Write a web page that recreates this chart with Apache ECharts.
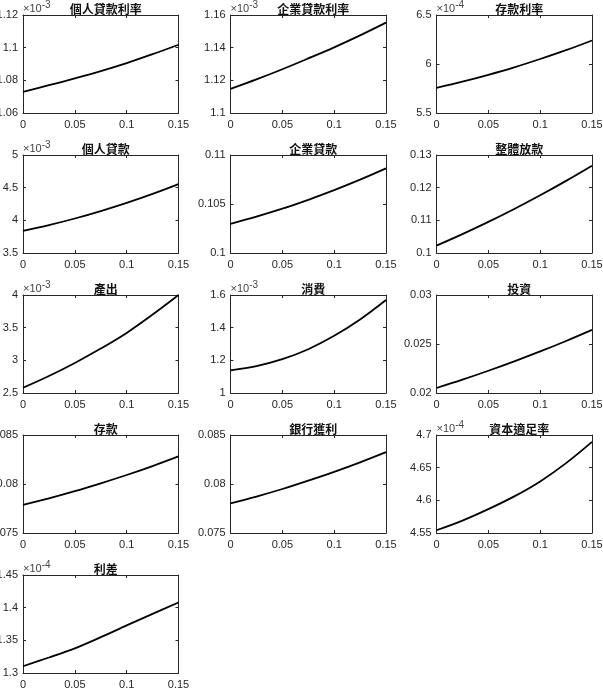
<!DOCTYPE html>
<html>
<head>
<meta charset="utf-8">
<script src="https://cdn.jsdelivr.net/npm/echarts@6/dist/echarts.min.js"></script>
<style>
html, body { margin: 0; padding: 0; background: #fff; }
#main { width: 603px; height: 699px; }
</style>
</head>
<body>
<div id="main"></div>
<script>
// x: shock size
var shock = [0, 0.025, 0.05, 0.075, 0.1, 0.125, 0.15];

// panel titles
var titles = ['個人貸款利率', '企業貸款利率', '存款利率',
              '個人貸款', '企業貸款', '整體放款',
              '產出', '消費', '投資',
              '存款', '銀行獲利', '資本適足率',
              '利差'];

// responses (in displayed units, see exponents)
var personalLoanRate  = [1.0730, 1.0770, 1.0812, 1.0857, 1.0906, 1.0960, 1.1018];
var corporateLoanRate = [1.1148, 1.1206, 1.1268, 1.1334, 1.1402, 1.1475, 1.1553];
var depositRate       = [5.757, 5.820, 5.890, 5.966, 6.051, 6.141, 6.240];
var personalLoan      = [3.838, 3.927, 4.028, 4.142, 4.267, 4.405, 4.555];
var corporateLoan     = [0.10298, 0.10371, 0.10452, 0.10543, 0.10641, 0.10748, 0.10863];
var totalLoan         = [0.10226, 0.10578, 0.10952, 0.11349, 0.11767, 0.12208, 0.12671];
var output            = [2.58, 2.76, 2.96, 3.18, 3.42, 3.70, 4.00];
var consumption       = [1.139, 1.165, 1.207, 1.268, 1.350, 1.450, 1.569];
var investment        = [0.02051, 0.02136, 0.02227, 0.02323, 0.02424, 0.02531, 0.02644];
var deposit           = [0.07788, 0.07854, 0.07927, 0.08007, 0.08092, 0.08183, 0.08281];
var bankProfit        = [0.07802, 0.07872, 0.07949, 0.08034, 0.08124, 0.08221, 0.08325];
var capitalRatio      = [4.5542, 4.569, 4.5865, 4.606, 4.629, 4.657, 4.6895];
var spread            = [1.3103, 1.3237, 1.3378, 1.3548, 1.3728, 1.3905, 1.4079];

var panelValues = [personalLoanRate, corporateLoanRate, depositRate,
                   personalLoan, corporateLoan, totalLoan,
                   output, consumption, investment,
                   deposit, bankProfit, capitalRatio,
                   spread];

// y axis ranges and tick steps
var yMin  = [1.06, 1.1, 5.5, 3.5, 0.1, 0.1, 2.5, 1, 0.02, 0.075, 0.075, 4.55, 1.3];
var yMax  = [1.12, 1.16, 6.5, 5, 0.11, 0.13, 4, 1.6, 0.03, 0.085, 0.085, 4.7, 1.45];
var yStep = [0.02, 0.02, 0.5, 0.5, 0.005, 0.01, 0.5, 0.2, 0.005, 0.005, 0.005, 0.05, 0.05];
// axis exponent (×10^n), 0 = none
var exponents = [-3, -3, -4, -3, 0, 0, -3, -3, 0, 0, 0, -4, -4];

var xMin = 0, xMax = 0.15, xStep = 0.05;

(function () {
    var FONT = '"Liberation Sans", Arial, sans-serif';
    var INK = '#262626';

    var colLeft = [23, 230.5, 436.5];
    var rowTop0 = 15, rowGap = 140;
    var plotW = 155.5, plotH = 98;

    var grid = [], xAxis = [], yAxis = [], series = [], title = [];

    function edgeAxis(extra) {
        var a = {
            axisLine: { show: true, onZero: false, lineStyle: { color: INK, width: 1 } },
            axisTick: { show: true, inside: true, length: 3, lineStyle: { color: INK, width: 1 } },
            axisLabel: { show: false },
            splitLine: { show: false }
        };
        for (var k in extra) a[k] = extra[k];
        return a;
    }

    for (var i = 0; i < titles.length; i++) {
        var row = Math.floor(i / 3), col = i % 3;
        var gLeft = colLeft[col], gTop = rowTop0 + row * rowGap;
        grid.push({ left: gLeft, top: gTop, width: plotW, height: plotH,
                    containLabel: false, outerBoundsMode: 'none' });

        // bottom and top x axes
        xAxis.push(edgeAxis({
            gridIndex: i, type: 'value', position: 'bottom',
            min: xMin, max: xMax, interval: xStep,
            axisLabel: { show: true, color: INK, fontFamily: FONT, fontSize: 11, margin: 6 }
        }));
        xAxis.push(edgeAxis({
            gridIndex: i, type: 'value', position: 'top',
            min: xMin, max: xMax, interval: xStep
        }));

        // left and right y axes
        var yl = edgeAxis({
            gridIndex: i, type: 'value', position: 'left',
            min: yMin[i], max: yMax[i], interval: yStep[i],
            axisLabel: { show: true, color: INK, fontFamily: FONT, fontSize: 11, margin: 5 }
        });
        if (exponents[i] !== 0) {
            yl.name = '{a|×10}{b|' + exponents[i] + '}';
            yl.nameLocation = 'end';
            yl.nameGap = 1;
            yl.nameTextStyle = {
                align: 'left', verticalAlign: 'bottom',
                rich: {
                    a: { fontFamily: FONT, fontSize: 11, color: '#444', lineHeight: 14, verticalAlign: 'bottom' },
                    b: { fontFamily: FONT, fontSize: 10, color: '#444', lineHeight: 10, verticalAlign: 'top' }
                }
            };
        }
        yAxis.push(yl);
        yAxis.push(edgeAxis({
            gridIndex: i, type: 'value', position: 'right',
            min: yMin[i], max: yMax[i], interval: yStep[i]
        }));

        title.push({
            text: titles[i],
            left: gLeft + plotW / 2,
            top: gTop - 17,
            textAlign: 'center',
            textStyle: { fontFamily: '"Noto Sans CJK TC", sans-serif', fontWeight: 'bold', fontSize: 12, color: '#111' }
        });

        var pts = [];
        for (var j = 0; j < shock.length; j++) pts.push([shock[j], panelValues[i][j]]);
        series.push({
            type: 'line',
            xAxisIndex: 2 * i,
            yAxisIndex: 2 * i,
            data: pts,
            smooth: 0.35,
            showSymbol: false,
            lineStyle: { color: '#000', width: 1.8 },
            animation: false
        });
    }

    var chart = echarts.init(document.getElementById('main'));
    chart.setOption({
        backgroundColor: '#fff',
        animation: false,
        title: title,
        grid: grid,
        xAxis: xAxis,
        yAxis: yAxis,
        series: series
    });
})();
</script>
</body>
</html>
